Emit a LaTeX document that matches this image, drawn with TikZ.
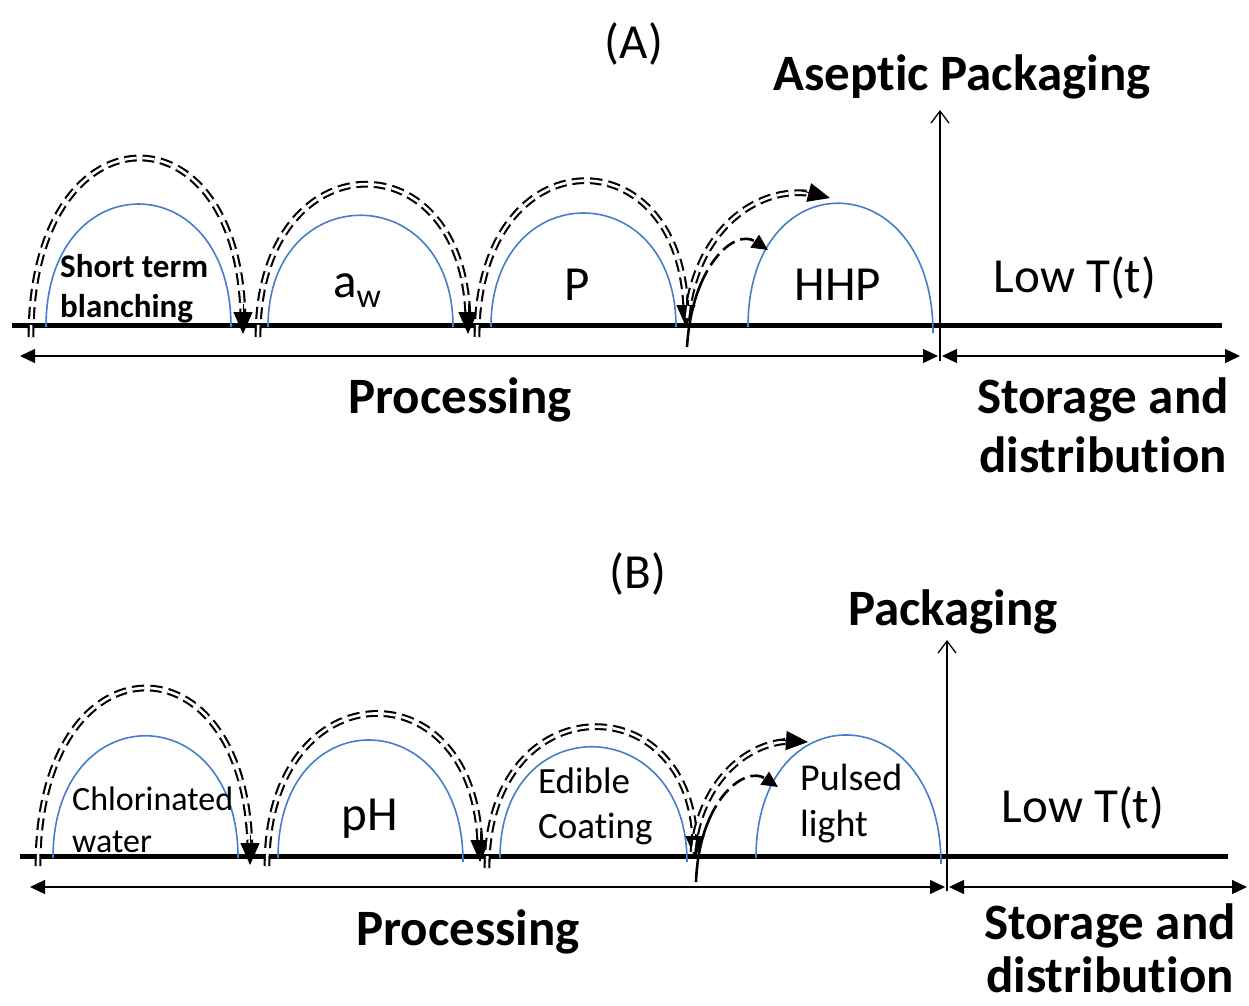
\documentclass[tikz,border=0pt]{standalone}
\usepackage{fontspec}
\setmainfont{Carlito}[Ligatures=CommonOff]
\usetikzlibrary{arrows.meta,calc}
\definecolor{arcblue}{RGB}{70,125,205}
\begin{document}
\begin{tikzpicture}[x=1pt,y=-1pt,
  baseline line/.style={line width=5pt},
  bluearc/.style={draw=arcblue, line width=1.6pt},
  dbl/.style={draw=black, double=white, line width=2.1pt, double distance=2.6pt,
              dash pattern=on 12pt off 6pt, shorten >=10pt},
  dbltip/.style={draw=black, line width=1pt, -{Triangle[length=22pt,width=19pt]}},
  sgl/.style={draw=black, line width=2.6pt,
              dash pattern=on 80pt off 6pt on 14pt off 6pt on 14pt off 6pt on 14pt off 6pt on 14pt off 6pt,
              -{Triangle[length=16pt,width=15pt]}},
  spanarrow/.style={line width=1.3pt, {Triangle[length=15pt,width=14pt]}-{Triangle[length=15pt,width=14pt]}},
  uparrow/.style={line width=1.3pt, -{Straight Barb[length=12pt,width=18pt]}},
  big/.style={font=\fontsize{49}{58}\selectfont, inner sep=0pt, anchor=base},
  bigb/.style={font=\fontsize{51}{60}\selectfont\bfseries, inner sep=0pt, anchor=base},
  smallb/.style={font=\fontsize{33}{40}\selectfont\bfseries, inner sep=0pt, anchor=base west},
  small/.style={font=\fontsize{#1}{40}\selectfont, inner sep=0pt, anchor=base west},
]
\useasboundingbox (0,0) rectangle (1249,1005);

% ================= Panel A =================
\node[big] (titleA) at (634,58) {(A)};
\node[bigb] (aseptic) at (962,90) {Aseptic Packaging};

% baseline and span arrows
\coordinate (Abl) at (12,325);
\coordinate (Abr) at (1222,325);
\draw[baseline line] (Abl) -- (Abr);
\coordinate (Apl) at (20,356);
\coordinate (Apr) at (938,356);
\coordinate (Asl) at (942,356);
\coordinate (Asr) at (1240,356);
\coordinate (Avb) at (940,361);
\coordinate (Avt) at (940,110);
\draw[spanarrow] (Apl) -- (Apr);
\draw[spanarrow] (Asl) -- (Asr);
\draw[uparrow] (Avb) -- (Avt);

% blue arcs
\draw[bluearc] (46,327) .. controls +(0,-164) and +(0,-164) .. (231,327);
\draw[bluearc] (268,327) .. controls +(0,-149) and +(0,-149) .. (453,327);
\draw[bluearc] (491,327) .. controls +(0,-152) and +(0,-152) .. (676,327);
\draw[bluearc] (748,327) .. controls +(0,-169) and +(0,-169) .. (933,333);

% dashed double arcs
\coordinate (a1s) at (31,337);  \coordinate (a1e) at (243,334);
\coordinate (a2s) at (258,337); \coordinate (a2e) at (468,334);
\coordinate (a3s) at (477,337); \coordinate (a3e) at (686,327);
\coordinate (a4s) at (687,318); \coordinate (a4e) at (830,198);
\coordinate (a5s) at (687,347); \coordinate (a5e) at (768,250);
\draw[dbl] (a1s) .. controls +(0,-235) and +(0,-235) .. (a1e);
\draw[dbltip] ($(a1e)+(0,-30)$) -- (a1e);
\draw[dbl] (a2s) .. controls +(0,-200) and +(0,-200) .. (a2e);
\draw[dbltip] ($(a2e)+(0,-30)$) -- (a2e);
\draw[dbl] (a3s) .. controls +(0,-205) and +(0,-195) .. (a3e);
\draw[dbltip] ($(a3e)+(0,-30)$) -- (a3e);
\draw[dbl] (a4s) .. controls (695,230) and (760,180) .. (a4e);
\draw[dbltip] ($(a4e)+(-29,-7.5)$) -- (a4e);
\draw[sgl] (a5s) .. controls (692,265) and (735,228) .. (a5e);

% texts
\node[smallb] (stA) at (60,277) {Short term};
\node[smallb] (blA) at (60,317) {blanching};
\node[big, anchor=base west] (awA) at (333,297) {a\raisebox{-10pt}{\fontsize{34}{40}\selectfont w}};
\node[big] (pA) at (577,300) {P};
\node[big] (hhpA) at (838,300) {HHP};
\node[big] (lowA) at (1075,292) {Low T(t)};
\node[bigb] (procA) at (460,413) {Processing};
\node[bigb] (stoA) at (1103,413) {Storage and};
\node[bigb] (distA) at (1103,472) {distribution};

% ================= Panel B =================
\node[big] (titleB) at (638,588) {(B)};
\node[bigb] (pack) at (953,625) {Packaging};

\coordinate (Bbl) at (20,856);
\coordinate (Bbr) at (1228,856);
\draw[baseline line] (Bbl) -- (Bbr);
\coordinate (Bpl) at (30,887);
\coordinate (Bpr) at (945,887);
\coordinate (Bsl) at (949,887);
\coordinate (Bsr) at (1247,887);
\coordinate (Bvb) at (947,891);
\coordinate (Bvt) at (947,640);
\draw[spanarrow] (Bpl) -- (Bpr);
\draw[spanarrow] (Bsl) -- (Bsr);
\draw[uparrow] (Bvb) -- (Bvt);

\draw[bluearc] (53,858) .. controls +(0,-163) and +(0,-163) .. (238,858);
\draw[bluearc] (278,858) .. controls +(0,-160) and +(0,-160) .. (463,862);
\draw[bluearc] (500,858) .. controls +(0,-151) and +(0,-151) .. (687,862);
\draw[bluearc] (756,858) .. controls +(0,-168) and +(0,-168) .. (941,864);

\coordinate (b1s) at (38,866);  \coordinate (b1e) at (250,865);
\coordinate (b2s) at (267,866); \coordinate (b2e) at (480,862);
\coordinate (b3s) at (487,868); \coordinate (b3e) at (695,858);
\coordinate (b4s) at (693,852); \coordinate (b4e) at (808,742);
\coordinate (b5s) at (696,882); \coordinate (b5e) at (778,787);
\draw[dbl] (b1s) .. controls +(0,-235) and +(0,-235) .. (b1e);
\draw[dbltip] ($(b1e)+(0,-30)$) -- (b1e);
\draw[dbl] (b2s) .. controls +(0,-199) and +(0,-199) .. (b2e);
\draw[dbltip] ($(b2e)+(0,-30)$) -- (b2e);
\draw[dbl] (b3s) .. controls +(0,-184) and +(0,-176) .. (b3e);
\draw[dbltip] ($(b3e)+(0,-30)$) -- (b3e);
\draw[dbl] (b4s) .. controls (700,780) and (750,738) .. (b4e);
\draw[dbltip] ($(b4e)+(-30,-2)$) -- (b4e);
\draw[sgl] (b5s) .. controls (699,800) and (745,765) .. (b5e);

\node[small=34] (chB) at (72,810) {Chlorinated};
\node[small=34] (waB) at (72,852) {water};
\node[big] (phB) at (370,830) {pH};
\node[small=37] (edB) at (538,793) {Edible};
\node[small=37] (coB) at (538,838) {Coating};
\node[small=38] (puB) at (800,790) {Pulsed};
\node[small=38] (liB) at (800,836) {light};
\node[big] (lowB) at (1083,822) {Low T(t)};
\node[bigb] (procB) at (468,945) {Processing};
\node[bigb] (stoB) at (1110,939) {Storage and};
\node[bigb] (distB) at (1110,992) {distribution};
\end{tikzpicture}
\end{document}
